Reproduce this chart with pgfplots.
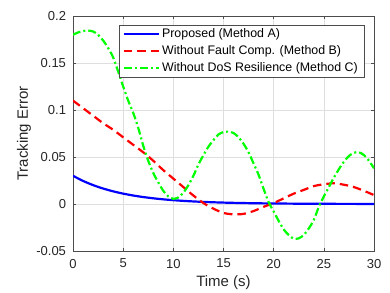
\documentclass[border=0pt]{standalone}
\usepackage{fontspec}
\setmainfont{Liberation Sans}
\usepackage{pgfplots}
\pgfplotsset{compat=1.18}
\definecolor{axgray}{gray}{0.3}
\begin{document}
\begin{tikzpicture}
\useasboundingbox (-73bp,-42bp) rectangle (317bp,251bp);
\begin{axis}[
  at={(0,0)}, anchor=south west,
  scale only axis, width=301bp, height=235bp,
  xmin=0, xmax=30, ymin=-0.05, ymax=0.2,
  xtick={0,5,...,30}, ytick={-0.05,0,0.05,0.1,0.15,0.2},
  yticklabels={-0.05,0,0.05,0.1,0.15,0.2},
  /pgf/number format/assume math mode=true,
  ticklabel style={font=\fontsize{13bp}{15bp}\selectfont, text=black!85},
  xticklabel style={yshift=-4.5bp},
  yticklabel style={xshift=-3.5bp},
  tick align=inside, major tick length=3bp,
  tick style={axgray, line width=0.5bp},
  axis line style={axgray, line width=0.6bp},
  grid=major, major grid style={black!13, line width=0.5bp},
  xlabel={Time (s)}, ylabel={Tracking Error},
  label style={font=\fontsize{15bp}{17bp}\selectfont, text=black!85},
  xlabel style={at={(axis description cs:0.5,-0.136)}, anchor=center},
  ylabel style={at={(axis description cs:-0.163,0.5)}, anchor=center, rotate=0},
  legend style={at={(rel axis cs:0.967,0.962)}, anchor=north east,
    font=\fontsize{12.4bp}{14bp}\selectfont, draw=axgray, line width=0.5bp, fill=white,
    inner xsep=4bp, inner ysep=1.5bp, row sep=2bp,
    nodes={inner sep=2bp, text depth=0.2em}},
  legend cell align=left,
  legend image code/.code={\draw[#1] (0bp,0bp) -- (35bp,0bp);},
  no marks,
]
\addplot[blue, line width=2.2bp, smooth] coordinates {
(0,0.03) (1,0.024562) (2,0.020110) (3,0.016464) (4,0.013480) (5,0.011036)
(6,0.009036) (7,0.007398) (8,0.006057) (9,0.004959) (10,0.004060) (11,0.003324)
(12,0.002721) (13,0.002228) (14,0.001824) (15,0.001494) (16,0.001223) (17,0.001001)
(18,0.000820) (19,0.000671) (20,0.000549) (22,0.000368) (24,0.000247) (26,0.000166)
(28,0.000111) (30,0.000074)};
\addlegendentry{Proposed (Method A)}
\addplot[red, line width=2.2bp, smooth, dash pattern=on 8.5bp off 5bp] coordinates {
(0,0.110) (1,0.102) (2,0.094) (3,0.086) (4,0.079) (5,0.071) (6,0.063) (7,0.055)
(8,0.046) (9,0.036) (10,0.027) (11,0.018) (12,0.009) (13,0.001) (14,-0.005)
(15,-0.0095) (16,-0.011) (17,-0.0105) (18,-0.0075) (19,-0.003) (20,0.001)
(21,0.006) (22,0.011) (23,0.015) (24,0.019) (25,0.021) (26,0.022) (27,0.0205)
(28,0.018) (29,0.014) (30,0.0095)};
\addlegendentry{Without Fault Comp. (Method B)}
\addplot[green, line width=2.2bp, smooth, dash pattern=on 8bp off 3bp on 2bp off 3bp] coordinates {
(0,0.180) (0.5,0.1825) (1,0.184) (1.5,0.1845) (2,0.1835) (2.5,0.180) (3,0.174)
(3.5,0.166) (4,0.156) (4.5,0.141) (5,0.125) (5.5,0.110) (6,0.097) (6.5,0.081)
(7,0.062) (7.5,0.046) (8,0.033) (8.5,0.023) (9,0.014) (9.5,0.008) (10,0.0055)
(10.5,0.007) (11,0.012) (11.5,0.020) (12,0.030) (12.5,0.042) (13,0.052)
(13.5,0.061) (14,0.068) (14.5,0.074) (15,0.0765) (15.5,0.077) (16,0.0755)
(16.5,0.071) (17,0.064) (17.5,0.055) (18,0.043) (18.5,0.031) (19,0.016)
(19.5,0.002) (20,-0.008) (20.5,-0.018) (21,-0.027) (21.5,-0.033) (22,-0.037)
(22.5,-0.0365) (23,-0.033) (23.5,-0.026) (24,-0.017) (24.5,-0.003) (25,0.008)
(25.5,0.018) (26,0.028) (26.5,0.037) (27,0.045) (27.5,0.051) (28,0.0545)
(28.5,0.055) (29,0.052) (29.5,0.046) (30,0.038)};
\addlegendentry{Without DoS Resilience (Method C)}
\end{axis}
\end{tikzpicture}
\end{document}
